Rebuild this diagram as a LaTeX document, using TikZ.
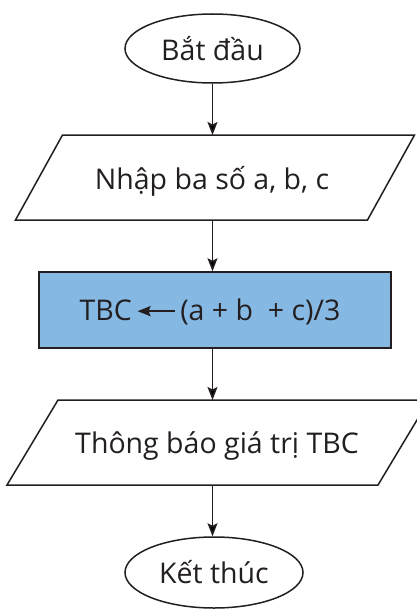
\documentclass[tikz,border=0pt]{standalone}
\usepackage{fontspec}
\setmainfont{Open Sans}
\usetikzlibrary{shapes.geometric,arrows.meta}
\definecolor{ink}{HTML}{231F20}
\definecolor{boxblue}{HTML}{85B8E3}
\begin{document}
\begin{tikzpicture}[x=1pt,y=-1pt,
  every node/.style={font=\fontsize{28.5}{33}\selectfont, text=ink},
  line/.style={draw=ink, line width=1.5pt},
  terminal/.style={line, ellipse, inner sep=0pt},
  iobox/.style={rectangle, inner sep=0pt, outer sep=0pt},
  procbox/.style={line, rectangle, fill=boxblue, inner sep=0pt},
  flow/.style={draw=ink, line width=1.5pt, -{Stealth[length=13pt,width=10pt,inset=2.5pt]}}
]
\useasboundingbox (0,0) rectangle (417,610);
\clip (0,0) rectangle (417,610);

\node[terminal, minimum width=175pt, minimum height=69pt] (start) at (212.5,48.5) {Bắt đầu};

\node[iobox, minimum width=352pt, minimum height=85pt] (input) at (215,177.5) {};
\draw[line, line join=miter] ([xshift=23.5pt]input.north west) -- ([xshift=23.5pt]input.north east)
  -- ([xshift=-23.5pt]input.south east) -- ([xshift=-23.5pt]input.south west) -- cycle;
\node (inputtext) at (212,181) {Nhập ba số a, b, c};

\node[procbox, minimum width=352pt, minimum height=76pt] (calc) at (215,310) {};
\node (calctext) at (210,312) {TBC\,\tikz[baseline=-0.33em]\draw[draw=ink,line width=2pt,-{Stealth[length=13pt,width=10pt,inset=2pt]}] (37pt,0) -- (0,0);\,(a + b \ + c)/3};

\node[iobox, minimum width=371pt, minimum height=85pt] (output) at (218,442.5) {};
\draw[line, line join=miter] ([xshift=25.5pt]output.north west) -- ([xshift=25.5pt]output.north east)
  -- ([xshift=-25.5pt]output.south east) -- ([xshift=-25.5pt]output.south west) -- cycle;
\node (outputtext) at (217,446) {Thông báo giá trị TBC};

\node[terminal, minimum width=178pt, minimum height=71pt] (stop) at (214,572.5) {Kết thúc};

\draw[flow] (start.south) -- (start.south |- input.north);
\draw[flow] (start.south |- input.south) -- (start.south |- calc.north);
\draw[flow] (start.south |- calc.south) -- (start.south |- output.north);
\draw[flow] (start.south |- output.south) -- (start.south |- stop.north);
\end{tikzpicture}
\end{document}
